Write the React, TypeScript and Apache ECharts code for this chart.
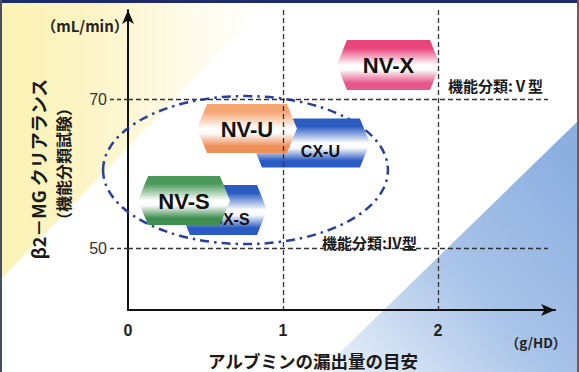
import React, { useEffect, useRef } from "react";
import * as echarts from "echarts";

// ---- data ----
const xTickValues = [0, 1, 2];
const yTickValues = [50, 70];

const products = ["CX-S", "NV-S", "CX-U", "NV-U", "NV-X"];
const albuminMin = [0.335, 0.065, 0.8, 0.445, 1.348];
const albuminMax = [0.897, 0.658, 1.561, 1.09, 2.013];
const clearanceMin = [51.77, 53.12, 60.83, 62.79, 71.26];
const clearanceMax = [58.49, 59.7, 67.41, 69.37, 77.97];

const groupAlbumin = [-0.161, 1.677];
const groupClearance = [50.56, 70.44];

const classLabels = ["機能分類:Ⅴ型", "機能分類:Ⅳ型"];
const classX = [2.065, 1.252];
const classY = [71.92, 50.83];

const refY = [70, 50];
const refX = [1, 2];

// ---- styles ----
const productColors: Record<string, [string, string]> = {
  "CX-S": ["#2b5cc2", "#2a5bc3"],
  "NV-S": ["#4c9a5b", "#3e8e4f"],
  "CX-U": ["#2b5cc2", "#2a5bc3"],
  "NV-U": ["#f5a673", "#f08f5a"],
  "NV-X": ["#e8457c", "#e7588a"],
};

const CJK = '"Noto Sans CJK JP", sans-serif';
const LAT = '"Liberation Sans", Arial, sans-serif';

export default function App() {
  const ref = useRef<HTMLDivElement>(null);
  useEffect(() => {
    document.body.style.margin = "0";
    const chart = echarts.init(ref.current!, null, { renderer: "svg" });
    const X_MIN = 0, X_MAX = 2.755, Y_MIN = 41.7, Y_MAX = 82;

    const option: any = {
      animation: false,
      backgroundColor: "#ffffff",
      grid: { left: 128, top: 10, width: 427, height: 300, containLabel: false },
      xAxis: {
        type: "value",
        min: X_MIN,
        max: X_MAX,
        interval: 1,
        axisLine: {
          show: true,
          symbol: ["none", "arrow"],
          symbolSize: [9, 14],
          lineStyle: { color: "#111", width: 2 },
        },
        axisTick: { show: false },
        splitLine: { show: false },
        axisLabel: {
          customValues: xTickValues,
          formatter: (v: number) => (xTickValues.indexOf(v) >= 0 ? String(v) : ""),
          fontSize: 16,
          fontWeight: "bold",
          fontFamily: LAT,
          color: "#222",
          margin: 12,
        },
      },
      yAxis: {
        type: "value",
        min: Y_MIN,
        max: Y_MAX,
        axisLine: {
          show: true,
          symbol: ["none", "arrow"],
          symbolSize: [9, 14],
          lineStyle: { color: "#111", width: 2 },
        },
        axisTick: {
          show: true,
          customValues: yTickValues,
          length: 18,
          lineStyle: { color: "#333", width: 1.3, type: [4, 3] },
        },
        splitLine: { show: false },
        axisLabel: {
          customValues: yTickValues,
          fontSize: 16,
          fontFamily: LAT,
          color: "#333",
          margin: 21,
        },
      },
      graphic: [
        {
          type: "polygon",
          z: -10,
          silent: true,
          shape: { points: [[0, 0], [270, 0], [0, 280]] },
          style: {
            fill: new echarts.graphic.LinearGradient(0, 0, 1, 0, [
              { offset: 0, color: "#fbf2b4" },
              { offset: 0.3, color: "#fcf4c4" },
              { offset: 0.7, color: "#fefbea" },
              { offset: 1, color: "#ffffff" },
            ]),
          },
        },
        {
          type: "polygon",
          z: -10,
          silent: true,
          shape: { points: [[579, 120], [579, 372], [320, 372]] },
          style: {
            fill: new echarts.graphic.LinearGradient(1, 0.2, 0.1, 1, [
              { offset: 0, color: "#8cafe0" },
              { offset: 0.5, color: "#a8c3e8" },
              { offset: 1, color: "#e6eef8" },
            ]),
          },
        },
        { type: "rect", z: 50, silent: true, shape: { x: 0, y: 0, width: 579, height: 3 }, style: { fill: "#1e2c6c" } },
        { type: "rect", z: 50, silent: true, shape: { x: 0, y: 0, width: 2, height: 372 }, style: { fill: "#4a4f60" } },
        { type: "rect", z: 50, silent: true, shape: { x: 577, y: 0, width: 2, height: 372 }, style: { fill: "#6d6050" } },
        {
          type: "text",
          x: 85,
          y: 25,
          style: { text: "（mL/min）", fontSize: 15, fontWeight: "bold", fontFamily: CJK, fill: "#222", align: "center", verticalAlign: "middle" },
        },
        {
          type: "text",
          x: 536,
          y: 342,
          style: { text: "（g/HD）", fontSize: 13.5, fontWeight: "bold", fontFamily: CJK, fill: "#222", align: "center", verticalAlign: "middle" },
        },
        {
          type: "text",
          x: 313,
          y: 360,
          style: { text: "アルブミンの漏出量の目安", fontSize: 17.5, fontWeight: "bold", fontFamily: CJK, fill: "#1a1a1a", align: "center", verticalAlign: "middle" },
        },
        {
          type: "text",
          x: 38,
          y: 169,
          rotation: Math.PI / 2,
          style: { text: "β2－MG クリアランス", fontSize: 18, fontWeight: "bold", fontFamily: CJK, fill: "#1a1a1a", align: "center", verticalAlign: "middle" },
        },
        {
          type: "text",
          x: 63,
          y: 164,
          rotation: Math.PI / 2,
          style: { text: "（機能分類試験）", fontSize: 16, fontWeight: "bold", fontFamily: CJK, fill: "#1a1a1a", align: "center", verticalAlign: "middle" },
        },
      ],
      series: [
        {
          type: "line",
          z: 1,
          data: [],
          silent: true,
          markLine: {
            silent: true,
            symbol: "none",
            label: { show: false },
            lineStyle: { color: "#333", width: 1.3, type: [5, 3] },
            data: [
              ...refY.map((y) => [{ coord: [X_MIN, y] }, { coord: [2.71, y] }]),
              ...refX.map((x) => [{ coord: [x, Y_MAX] }, { coord: [x, Y_MIN] }]),
            ],
          },
        },
        {
          type: "custom",
          z: 2,
          silent: true,
          data: [[groupAlbumin[0], groupAlbumin[1], groupClearance[0], groupClearance[1]]],
          encode: { x: [0, 1], y: [2, 3] },
          renderItem: (params: any, api: any) => {
            const p1 = api.coord([api.value(0), api.value(3)]);
            const p2 = api.coord([api.value(1), api.value(2)]);
            return {
              type: "ellipse",
              shape: { cx: (p1[0] + p2[0]) / 2, cy: (p1[1] + p2[1]) / 2, rx: (p2[0] - p1[0]) / 2, ry: (p2[1] - p1[1]) / 2 },
              style: { fill: "none", stroke: "#2b3f9c", lineWidth: 2.5, lineDash: [9, 5, 2.5, 5] },
            };
          },
        },
        {
          type: "custom",
          z: 3,
          silent: true,
          data: products.map((n, i) => [albuminMin[i], albuminMax[i], clearanceMin[i], clearanceMax[i]]),
          encode: { x: [0, 1], y: [2, 3] },
          renderItem: (params: any, api: any) => {
            const i = params.dataIndex;
            const name = products[i];
            const p1 = api.coord([api.value(0), api.value(3)]);
            const p2 = api.coord([api.value(1), api.value(2)]);
            const x0 = p1[0], y0 = p1[1], x1 = p2[0], y1 = p2[1];
            const ym = (y0 + y1) / 2;
            const ins = 10;
            const [c1, c2] = productColors[name];
            const fill = new echarts.graphic.LinearGradient(0, 0, 0, 1, [
              { offset: 0, color: c1 },
              { offset: 0.16, color: c1 },
              { offset: 0.5, color: "#ffffff" },
              { offset: 0.6, color: "#fbfbfb" },
              { offset: 0.86, color: c2 },
              { offset: 1, color: c2 },
            ]);
            const isCX = name.indexOf("CX") === 0;
            const tx = isCX ? x0 + 0.58 * (x1 - x0) : (x0 + x1) / 2;
            const ty = isCX ? y0 + 0.68 * (y1 - y0) : ym + 1;
            return {
              type: "group",
              children: [
                {
                  type: "polygon",
                  shape: { points: [[x0 + ins, y0], [x1 - ins, y0], [x1, ym], [x1 - ins, y1], [x0 + ins, y1], [x0, ym]] },
                  style: { fill },
                },
                {
                  type: "text",
                  x: tx,
                  y: ty,
                  style: {
                    text: name,
                    fontSize: isCX ? 16 : 22,
                    fontWeight: "bold",
                    fontFamily: LAT,
                    fill: "#111",
                    align: "center",
                    verticalAlign: "middle",
                  },
                },
              ],
            };
          },
        },
        {
          type: "custom",
          z: 4,
          silent: true,
          data: classLabels.map((t, i) => [classX[i], classY[i]]),
          encode: { x: 0, y: 1 },
          renderItem: (params: any, api: any) => {
            const p = api.coord([api.value(0), api.value(1)]);
            return {
              type: "text",
              x: p[0],
              y: p[1],
              style: {
                text: classLabels[params.dataIndex],
                fontSize: 15,
                fontWeight: "bold",
                fontFamily: CJK,
                fill: "#1a1a1a",
                align: "left",
                verticalAlign: "middle",
              },
            };
          },
        },
      ],
    };
    chart.setOption(option);
    return () => chart.dispose();
  }, []);
  return <div ref={ref} style={{ width: 579, height: 372 }} />;
}
